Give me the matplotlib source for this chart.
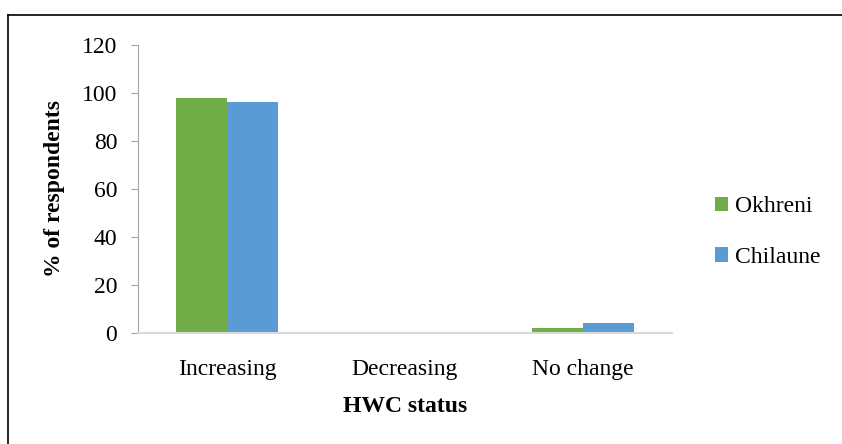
import matplotlib.pyplot as plt
import numpy as np
from matplotlib.lines import Line2D

categories = ["Increasing", "Decreasing", "No change"]
okhreni = [97.8, 0, 2.2]
chilaune = [96, 0, 4]

plt.rcParams['font.family'] = ['Liberation Serif', 'DejaVu Serif']

fig = plt.figure(figsize=(8.42, 4.44), dpi=100)
ax = fig.add_axes([0.164, 0.25, 0.634, 0.649])

x = np.arange(len(categories))
w = 0.287
ax.bar(x - w / 2, okhreni, w, color='#70AD47', label='Okhreni')
ax.bar(x + w / 2, chilaune, w, color='#5B9BD5', label='Chilaune')

ax.set_xlim(-0.5, 2.5)
ax.set_ylim(0, 120)
ax.set_yticks(range(0, 121, 20))
ax.set_xticks(x)
ax.set_xticklabels(categories)

for s in ['top', 'right']:
    ax.spines[s].set_visible(False)
ax.spines['left'].set_color('#a6a6a6')
ax.spines['bottom'].set_color('#d9d9d9')
ax.spines['bottom'].set_linewidth(1.5)
ax.tick_params(axis='y', colors='#a6a6a6', labelcolor='black', labelsize=17,
               length=5, pad=10)
ax.tick_params(axis='x', length=0, labelsize=17, pad=19)

ax.set_ylabel('% of respondents', fontsize=17, fontweight='bold', labelpad=12)
ax.set_xlabel('HWC status', fontsize=17, fontweight='bold', labelpad=11)

ax.legend(loc='center left', bbox_to_anchor=(1.04, 0.35), frameon=False,
          fontsize=17, handlelength=0.55, handleheight=0.55, handletextpad=0.3,
          labelspacing=1.25)

# outer chart border (left and top visible, right/bottom run off the image)
fig.add_artist(Line2D([0.0095, 0.0095], [0, 0.966], transform=fig.transFigure,
                      color='black', linewidth=1.2))
fig.add_artist(Line2D([0.0095, 1.0], [0.966, 0.966], transform=fig.transFigure,
                      color='black', linewidth=1.2))

fig.savefig('out.png', dpi=100)
